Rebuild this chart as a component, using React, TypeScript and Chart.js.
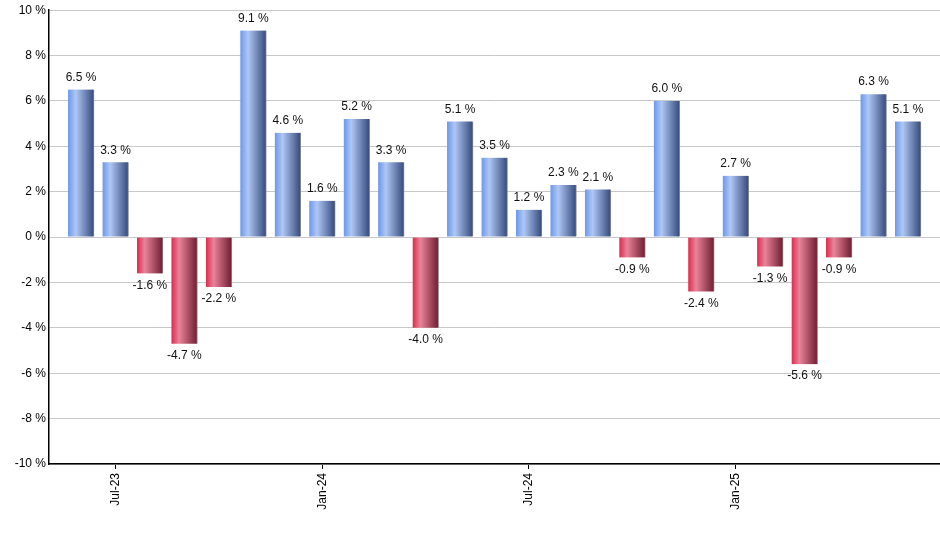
import React, { useEffect, useRef } from "react";
import { Chart, registerables } from "chart.js";

Chart.register(...registerables);

const CATEGORIES = [
  "Jun-23", "Jul-23", "Aug-23", "Sep-23", "Oct-23", "Nov-23", "Dec-23",
  "Jan-24", "Feb-24", "Mar-24", "Apr-24", "May-24", "Jun-24", "Jul-24",
  "Aug-24", "Sep-24", "Oct-24", "Nov-24", "Dec-24", "Jan-25", "Feb-25",
  "Mar-25", "Apr-25", "May-25", "Jun-25",
];

const VALUES = [
  6.5, 3.3, -1.6, -4.7, -2.2, 9.1, 4.6, 1.6, 5.2, 3.3, -4.0, 5.1, 3.5,
  1.2, 2.3, 2.1, -0.9, 6.0, -2.4, 2.7, -1.3, -5.6, -0.9, 6.3, 5.1,
];

const TICK_INDICES = [1, 7, 13, 19];

const FONT = "'Liberation Sans', Arial, sans-serif";
const BAR_W = 26;

const labelPlugin = {
  id: "valueLabels",
  afterDatasetsDraw(chart: any) {
    const ctx = chart.ctx;
    const meta = chart.getDatasetMeta(0);
    ctx.save();
    ctx.font = `12px ${FONT}`;
    ctx.fillStyle = "#111";
    ctx.textAlign = "center";
    ctx.textBaseline = "middle";
    meta.data.forEach((el: any, i: number) => {
      const v = VALUES[i];
      const txt = `${v.toFixed(1)} %`;
      const y = v >= 0 ? el.y - 12 : el.y + 12;
      ctx.fillText(txt, el.x, y);
    });
    ctx.restore();
  },
};

function barFill(ctx: any) {
  const chart = ctx.chart;
  const v = VALUES[ctx.dataIndex];
  const pos = v >= 0;
  const fallback = pos ? "#7fa3e8" : "#d9405c";
  const xs = chart.scales && chart.scales.x;
  if (!xs || ctx.type !== "data") return fallback;
  const cx = xs.getPixelForValue(ctx.dataIndex);
  if (!isFinite(cx)) return fallback;
  const g = chart.ctx.createLinearGradient(cx - BAR_W / 2, 0, cx + BAR_W / 2, 0);
  if (pos) {
    g.addColorStop(0, "#6b98ea");
    g.addColorStop(0.3, "#afc7f5");
    g.addColorStop(1, "#34497a");
  } else {
    g.addColorStop(0, "#dd2a4d");
    g.addColorStop(0.3, "#e8849a");
    g.addColorStop(1, "#6e1c30");
  }
  return g;
}

export default function App() {
  const ref = useRef<HTMLCanvasElement>(null);
  useEffect(() => {
    if (!ref.current) return;
    const chart = new Chart(ref.current, {
      type: "bar",
      data: {
        datasets: [
          {
            data: VALUES.map((v, i) => ({ x: i, y: v })),
            backgroundColor: barFill as any,
            borderColor: "#8a8a8a",
            borderWidth: { top: 0, left: 0, right: 1, bottom: 0 } as any,
            borderSkipped: false,
            barThickness: BAR_W,
          },
        ],
      },
      options: {
        animation: false,
        responsive: false,
        devicePixelRatio: 1,
        layout: { padding: { top: 10, right: 0, left: 0, bottom: 0 } },
        plugins: {
          legend: { display: false },
          tooltip: { enabled: false },
        },
        scales: {
          x: {
            type: "linear",
            min: -0.93,
            max: 24.93,
            offset: false,
            bounds: "data",
            afterBuildTicks: (scale: any) => {
              scale.ticks = TICK_INDICES.map((v) => ({ value: v }));
            },
            afterFit: (scale: any) => {
              scale.height = 86;
            },
            ticks: {
              autoSkip: false,
              maxRotation: 90,
              minRotation: 90,
              padding: 4,
              color: "#000",
              font: { family: FONT, size: 12 },
              callback: (v: any) => CATEGORIES[Math.round(Number(v))],
            },
            grid: {
              offset: false,
              drawOnChartArea: false,
              drawTicks: true,
              tickLength: 5,
              color: "#000",
            },
            border: { display: true, color: "#000", width: 1.5 },
          },
          y: {
            min: -10,
            max: 10,
            afterFit: (scale: any) => {
              scale.width = 49;
            },
            ticks: {
              stepSize: 2,
              padding: 3,
              color: "#000",
              font: { family: FONT, size: 12 },
              callback: (v: any) => `${v} %`,
            },
            grid: {
              color: "#c8c8c8",
              drawTicks: false,
            },
            border: { display: true, color: "#000", width: 1.5 },
          },
        },
      },
      plugins: [labelPlugin],
    });
    return () => chart.destroy();
  }, []);
  return (
    <div style={{ position: "absolute", left: 0, top: 0, width: 940, height: 550, background: "#fff" }}>
      <canvas ref={ref} width={940} height={550} />
    </div>
  );
}
